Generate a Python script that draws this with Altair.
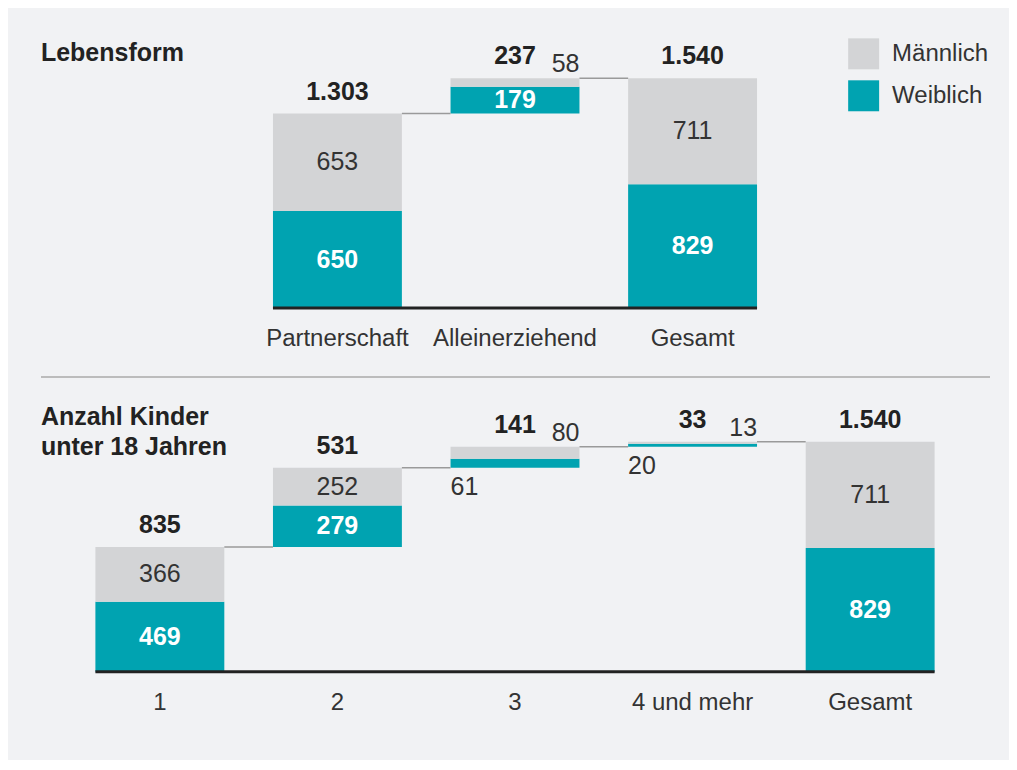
import altair as alt
import pandas as pd

# ---------------- data ----------------
series = ["Männlich", "Weiblich"]

top_title = "Lebensform"
top_categories = ["Partnerschaft", "Alleinerziehend", "Gesamt"]
top_weiblich = [650, 179, 829]
top_maennlich = [653, 58, 711]
top_is_total = [False, False, True]
top_positions = [1, 2, 3]

bottom_title = ["Anzahl Kinder", "unter 18 Jahren"]
bottom_categories = ["1", "2", "3", "4 und mehr", "Gesamt"]
bottom_weiblich = [469, 279, 61, 20, 829]
bottom_maennlich = [366, 252, 80, 13, 711]
bottom_is_total = [False, False, False, False, True]
bottom_positions = [0, 1, 2, 3, 4]

# ---------------- style ----------------
TEAL = "#00a3b1"
GRAY = "#d3d4d6"
BG = "#f1f2f4"
DARK = "#222222"
TEXT = "#333333"
FONT = "Liberation Sans"
HALF = 0.363
X_DOMAIN = [-0.6695, 4.675]
Y_DOMAIN = [0, 1860]
W, H = 950, 278
THRESH = 100


def fmt(n):
    return f"{n:,}".replace(",", ".")


def frames(cats, wv, mv, totals, pos):
    segs, tots, conns = [], [], []
    run = 0
    prev_right = None
    for c, w, m, t, p in zip(cats, wv, mv, totals, pos):
        base = 0 if t else run
        left, right = p - HALF, p + HALF
        top = base + w + m
        if prev_right is not None:
            conns.append({"x": prev_right, "x2": left, "y": run})
        segs.append({"cat": c, "left": left, "right": right, "y0": base, "y1": base + w,
                     "mid": base + w / 2, "series": "Weiblich", "value": w, "label": fmt(w),
                     "inside": w >= THRESH})
        segs.append({"cat": c, "left": left, "right": right, "y0": base + w, "y1": top,
                     "mid": base + w + m / 2, "series": "Männlich", "value": m, "label": fmt(m),
                     "inside": m >= THRESH})
        tots.append({"cat": c, "pos": p, "top": top, "zero": 0, "label": fmt(w + m)})
        if not t:
            run = top
        prev_right = right
    segs = pd.DataFrame(segs)
    tots = pd.DataFrame(tots)
    conns = pd.DataFrame(conns)
    base_df = pd.DataFrame({"x": [segs["left"].min()], "x2": [segs["right"].max()], "y": [0]})
    return segs, tots, conns, base_df


def panel(cats, wv, mv, totals, pos, title, title_dy, with_legend, with_sep):
    segs, tots, conns, base_df = frames(cats, wv, mv, totals, pos)
    xs = alt.Scale(domain=X_DOMAIN, nice=False, zero=False)
    ys = alt.Scale(domain=Y_DOMAIN, nice=False, zero=False)
    if with_legend:
        legend = alt.Legend(orient="none", legendX=808, legendY=8, title=None,
                            symbolType="square", symbolSize=961, symbolStrokeWidth=0,
                            symbolOpacity=1, labelFontSize=24, labelFont=FONT,
                            labelColor=TEXT, rowPadding=11, labelOffset=13)
    else:
        legend = None
    color = alt.Color("series:N", scale=alt.Scale(domain=series, range=[GRAY, TEAL]),
                      legend=legend, sort=series)

    base = alt.Chart(segs)
    bars = base.mark_rect().encode(
        x=alt.X("left:Q", scale=xs, axis=None),
        x2="right:Q",
        y=alt.Y("y0:Q", scale=ys, axis=None),
        y2="y1:Q",
        color=color,
    )
    inside_m = base.transform_filter("datum.inside && datum.series == 'Männlich'").transform_calculate(
        cx="(datum.left + datum.right) / 2").mark_text(
        font=FONT, fontSize=25, color=TEXT, baseline="middle").encode(
        x=alt.X("cx:Q", scale=xs, axis=None), y=alt.Y("mid:Q", scale=ys, axis=None), text="label:N")
    inside_w = base.transform_filter("datum.inside && datum.series == 'Weiblich'").transform_calculate(
        cx="(datum.left + datum.right) / 2").mark_text(
        font=FONT, fontSize=25, fontWeight="bold", color="white", baseline="middle").encode(
        x=alt.X("cx:Q", scale=xs, axis=None), y=alt.Y("mid:Q", scale=ys, axis=None), text="label:N")
    out_m = base.transform_filter("!datum.inside && datum.series == 'Männlich'").mark_text(
        font=FONT, fontSize=25, color=TEXT, baseline="alphabetic", align="right", dy=-6).encode(
        x=alt.X("right:Q", scale=xs, axis=None), y=alt.Y("y1:Q", scale=ys, axis=None), text="label:N")
    out_w = base.transform_filter("!datum.inside && datum.series == 'Weiblich'").mark_text(
        font=FONT, fontSize=25, color=TEXT, baseline="top", align="left", dy=7).encode(
        x=alt.X("left:Q", scale=xs, axis=None), y=alt.Y("y0:Q", scale=ys, axis=None), text="label:N")
    tot = alt.Chart(tots).mark_text(
        font=FONT, fontSize=25, fontWeight="bold", color=DARK, baseline="alphabetic", dy=-14).encode(
        x=alt.X("pos:Q", scale=xs, axis=None), y=alt.Y("top:Q", scale=ys, axis=None), text="label:N")
    cat_labels = alt.Chart(tots).mark_text(
        font=FONT, fontSize=24, color=TEXT, baseline="alphabetic", dy=38).encode(
        x=alt.X("pos:Q", scale=xs, axis=None), y=alt.Y("zero:Q", scale=ys, axis=None), text="cat:N")
    conn = alt.Chart(conns).mark_rule(color="#9a9a9a", strokeWidth=1.5).encode(
        x=alt.X("x:Q", scale=xs, axis=None), x2="x2:Q", y=alt.Y("y:Q", scale=ys, axis=None))
    baseline = alt.Chart(base_df).mark_rule(color=DARK, strokeWidth=3).encode(
        x=alt.X("x:Q", scale=xs, axis=None), x2="x2:Q", y=alt.Y("y:Q", scale=ys, axis=None))

    layers = [bars, conn, baseline, inside_m, inside_w, out_m, out_w, tot, cat_labels]
    if with_sep:
        sep = alt.Chart(base_df).mark_rule(color="#aaaaaa", strokeWidth=1.5).encode(
            x=alt.value(0), x2=alt.value(W), y=alt.value(H + 69))
        layers.append(sep)

    t = alt.TitleParams(text=title, anchor="start", frame="group", fontSize=25, font=FONT,
                        fontWeight="bold", color=DARK, baseline="top", offset=0, dy=title_dy,
                        lineHeight=30)
    return alt.layer(*layers).properties(width=W, height=H, title=t)


top = panel(top_categories, top_weiblich, top_maennlich, top_is_total, top_positions,
            top_title, 36, True, True)
bottom = panel(bottom_categories, bottom_weiblich, bottom_maennlich, bottom_is_total,
               bottom_positions, bottom_title, 66, False, False)

chart = alt.vconcat(top, bottom, spacing=16).resolve_legend(color="independent").configure(
    background=BG,
    padding={"left": 32, "top": 22, "right": 18, "bottom": 45},
).configure_view(stroke=None)

chart.save("out.html", embed_options={"renderer": "svg", "actions": False})
